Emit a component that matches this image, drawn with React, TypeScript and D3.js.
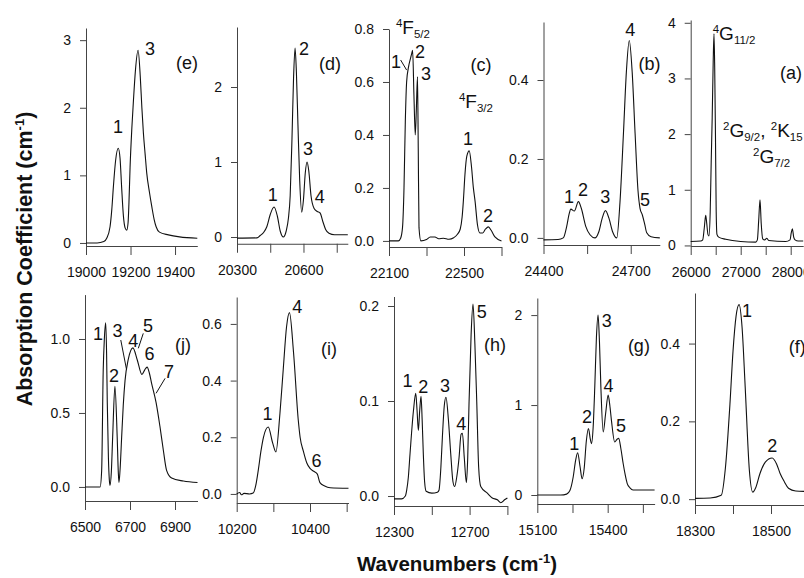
import React, { useEffect, useRef } from 'react';
import * as d3 from 'd3';

// absorption spectra, [wavenumber cm-1, absorption coefficient cm-1]
const specE = [[19000,0],[19050,0],[19080,0.02],[19093,0.07],[19108,0.24],[19116,0.5],[19123,0.83],[19133,1.22],[19145,1.40],[19153,1.25],[19160,0.83],[19168,0.4],[19176,0.22],[19183,0.19],[19189,0.3],[19193,0.6],[19198,1.12],[19206,1.7],[19213,2.1],[19222,2.55],[19234,2.85],[19244,2.45],[19251,2.0],[19258,1.62],[19266,1.3],[19273,1.03],[19285,0.75],[19296,0.53],[19306,0.35],[19315,0.24],[19330,0.16],[19370,0.12],[19420,0.09],[19500,0.07]];
const specD = [[20300,-0.015],[20390,-0.012],[20405,0.02],[20420,0.06],[20435,0.14],[20450,0.3],[20467,0.4],[20482,0.28],[20495,0.08],[20509,0.0],[20522,0.08],[20532,0.25],[20540,0.55],[20548,1.3],[20555,2.1],[20562,2.52],[20568,2.2],[20575,1.5],[20583,0.75],[20592,0.33],[20600,0.5],[20608,0.85],[20616,1.0],[20624,0.88],[20634,0.55],[20648,0.38],[20662,0.34],[20675,0.32],[20688,0.2],[20700,0.1],[20715,0.05],[20740,0.03],[20800,0.03]];
const specC = [[22100,0.0],[22150,0.0],[22162,0.01],[22172,0.05],[22180,0.2],[22187,0.45],[22194,0.6],[22205,0.66],[22215,0.69],[22222,0.71],[22226,0.72],[22233,0.55],[22240,0.40],[22246,0.5],[22252,0.62],[22256,0.35],[22260,0.05],[22270,0.0],[22300,0.005],[22320,0.015],[22345,0.015],[22365,0.008],[22390,0.01],[22420,0.006],[22445,0.012],[22465,0.025],[22480,0.045],[22490,0.09],[22497,0.155],[22505,0.25],[22515,0.32],[22528,0.34],[22540,0.28],[22550,0.2],[22559,0.15],[22572,0.06],[22585,0.03],[22600,0.03],[22615,0.045],[22630,0.053],[22645,0.04],[22665,0.015],[22700,0.0]];
const specB = [[24400,-0.005],[24450,-0.004],[24468,0.0],[24480,0.03],[24488,0.06],[24494,0.073],[24506,0.068],[24520,0.092],[24530,0.075],[24545,0.03],[24560,0.008],[24577,0.0],[24590,0.015],[24602,0.05],[24613,0.069],[24625,0.05],[24638,0.015],[24652,0.0],[24663,0.09],[24675,0.265],[24685,0.42],[24695,0.5],[24705,0.42],[24715,0.265],[24725,0.12],[24732,0.075],[24740,0.058],[24748,0.035],[24755,0.013],[24770,0.003],[24800,0.0]];
const specA = [[26000,0.07],[26200,0.08],[26240,0.1],[26270,0.3],[26300,0.54],[26320,0.4],[26345,0.2],[26366,0.17],[26390,0.6],[26410,1.5],[26430,2.3],[26450,3.3],[26466,3.8],[26480,3.2],[26495,2.0],[26510,0.6],[26525,0.2],[26560,0.15],[26700,0.11],[27000,0.07],[27300,0.06],[27333,0.1],[27360,0.45],[27386,0.82],[27410,0.4],[27440,0.12],[27480,0.1],[27520,0.13],[27560,0.09],[27900,0.07],[27987,0.1],[28010,0.22],[28033,0.3],[28060,0.15],[28087,0.1],[28150,0.08],[28250,0.08]];
const specJ = [[6500,0],[6540,0],[6567,0.0],[6574,0.11],[6581,0.79],[6586,1.0],[6592,1.11],[6596,0.9],[6599,0.57],[6604,0.2],[6608,0.05],[6611,0.01],[6617,0.1],[6623,0.34],[6633,0.68],[6643,0.34],[6648,0.1],[6651,0.03],[6656,0.12],[6663,0.34],[6670,0.55],[6678,0.72],[6692,0.86],[6713,0.94],[6732,0.86],[6753,0.76],[6765,0.79],[6776,0.81],[6786,0.77],[6796,0.70],[6816,0.57],[6833,0.41],[6848,0.25],[6863,0.11],[6885,0.06],[6937,0.04],[7000,0.03]];
const specI = [[10200,0.0],[10208,0.005],[10213,-0.003],[10220,0.002],[10235,0.0],[10245,0.003],[10252,0.03],[10259,0.085],[10266,0.15],[10273,0.2],[10286,0.236],[10298,0.18],[10307,0.148],[10318,0.285],[10327,0.44],[10336,0.59],[10344,0.64],[10355,0.5],[10368,0.26],[10373,0.2],[10382,0.15],[10391,0.11],[10400,0.09],[10410,0.08],[10420,0.07],[10427,0.04],[10440,0.028],[10455,0.022],[10505,0.02]];
const specH = [[12300,-0.003],[12340,-0.003],[12360,0.0],[12367,0.006],[12376,0.02],[12385,0.045],[12403,0.09],[12415,0.108],[12422,0.09],[12429,0.069],[12436,0.09],[12443,0.105],[12449,0.08],[12455,0.045],[12462,0.015],[12470,0.005],[12500,0.003],[12530,0.004],[12538,0.006],[12548,0.03],[12556,0.062],[12566,0.095],[12575,0.104],[12588,0.08],[12600,0.045],[12612,0.015],[12621,0.01],[12632,0.02],[12644,0.04],[12655,0.065],[12662,0.066],[12672,0.04],[12683,0.014],[12690,0.04],[12697,0.098],[12708,0.17],[12718,0.202],[12728,0.16],[12738,0.098],[12748,0.03],[12759,0.01],[12794,0.003],[12820,-0.002],[12847,-0.004],[12865,-0.007],[12885,-0.004],[12900,-0.002]];
const specG = [[15100,0],[15200,0],[15225,0.01],[15239,0.05],[15253,0.2],[15263,0.38],[15272,0.47],[15282,0.32],[15291,0.18],[15300,0.3],[15309,0.6],[15318,0.74],[15326,0.62],[15331,0.57],[15338,0.75],[15345,1.2],[15352,1.75],[15359,2.0],[15365,1.7],[15371,1.2],[15381,0.70],[15391,0.9],[15402,1.11],[15409,1.0],[15416,0.83],[15430,0.59],[15440,0.62],[15447,0.63],[15456,0.52],[15466,0.35],[15475,0.22],[15483,0.13],[15495,0.08],[15508,0.055],[15600,0.055]];
const specF = [[18300,0.002],[18340,0.003],[18369,0.01],[18380,0.08],[18392,0.245],[18400,0.38],[18408,0.47],[18416,0.50],[18424,0.44],[18432,0.29],[18443,0.075],[18452,0.018],[18460,0.03],[18471,0.066],[18485,0.095],[18503,0.106],[18515,0.09],[18524,0.066],[18535,0.045],[18546,0.028],[18565,0.021],[18590,0.02]];

// x ticks and the ones that carry a label
const xTicksE = [19000, 19200, 19400], xLabelsE = [19000, 19200, 19400];
const xTicksD = [20300, 20450, 20600, 20750], xLabelsD = [20300, 20600];
const xTicksC = [22100, 22300, 22500, 22700], xLabelsC = [22100, 22500];
const xTicksB = [24400, 24550, 24700], xLabelsB = [24400, 24700];
const xTicksA = [26000, 26500, 27000, 27500, 28000], xLabelsA = [26000, 27000, 28000];
const xTicksJ = [6500, 6700, 6900], xLabelsJ = [6500, 6700, 6900];
const xTicksI = [10200, 10300, 10400, 10500], xLabelsI = [10200, 10400];
const xTicksH = [12300, 12500, 12700, 12900], xLabelsH = [12300, 12700];
const xTicksG = [15100, 15250, 15400, 15550], xLabelsG = [15100, 15400];
const xTicksF = [18300, 18400, 18500], xLabelsF = [18300, 18500];

const yTicksE = [0, 1, 2, 3];
const yTicksD = [0, 1, 2];
const yTicksC = [0, 0.2, 0.4, 0.6, 0.8];
const yTicksB = [0, 0.2, 0.4];
const yTicksA = [0, 1, 2, 3, 4];
const yTicksJ = [0, 0.5, 1.0];
const yTicksI = [0, 0.2, 0.4, 0.6];
const yTicksH = [0, 0.1, 0.2];
const yTicksG = [0, 1, 2];
const yTicksF = [0, 0.2, 0.4];

// peak numbers / term labels, [wavenumber, value, text, anchor]
const notesE = [[19144, 1.62, '1'], [19288, 2.78, '3'], [19454, 2.58, '(e)']];
const notesD = [[20461, 0.48, '1'], [20602, 2.43, '2'], [20620, 1.09, '3'], [20674, 0.45, '4'], [20720, 2.23, '(d)']];
const notesC = [[22137, 0.78, '^{4}F_{5/2}', 'start'], [22137, 0.653, '1'], [22265, 0.69, '2'], [22297, 0.608, '3'], [22591, 0.642, '(c)'], [22473, 0.502, '^{4}F_{3/2}', 'start'], [22521, 0.362, '1'], [22628, 0.072, '2']];
const notesB = [[24488, 0.0886, '1'], [24536, 0.106, '2'], [24612, 0.0886, '3'], [24698, 0.512, '4'], [24749, 0.081, '5'], [24765, 0.425, '(b)']];
const notesA = [[26440, 3.69, '^{4}G_{11/2}', 'start'], [28006, 2.99, '(a)'], [26646, 1.95, '^{2}G_{9/2}, ^{2}K_{15}', 'start'], [27246, 1.48, '^{2}G_{7/2}', 'start']];
const notesJ = [[6558, 0.993, '1'], [6629, 0.711, '2'], [6645, 1.015, '3'], [6715, 0.948, '4'], [6780, 1.049, '5'], [6787, 0.858, '6'], [6873, 0.734, '7'], [6936, 0.919, '(j)']];
const notesI = [[10284, 0.261, '1'], [10365, 0.639, '4'], [10418, 0.096, '6'], [10452, 0.49, '(i)']];
const notesH = [[12371, 0.115, '1'], [12455, 0.108, '2'], [12570, 0.11, '3'], [12656, 0.069, '4'], [12764, 0.187, '5'], [12834, 0.153, '(h)']];
const notesG = [[15258, 0.5, '1'], [15312, 0.797, '2'], [15396, 1.87, '3'], [15404, 1.148, '4'], [15457, 0.703, '5'], [15533, 1.59, '(g)']];
const notesF = [[18437, 0.469, '1'], [18503, 0.122, '2'], [18547, 0.377, '(f)', 'start']];

// little pointer lines from a label to its peak
const leadersC = [[22162, 0.683, 22194, 0.645]];
const leadersJ = [[6659, 0.993, 6685, 0.79], [6759, 1.038, 6737, 0.937], [6856, 0.734, 6816, 0.633]];

const panels = [
  { id: 'e', spec: specE, xDom: [19000, 19500], yDom: [-0.045, 3.18], xTicks: xTicksE, xLabels: xLabelsE, yTicks: yTicksE, fmt: 'd', notes: notesE, leaders: [] },
  { id: 'd', spec: specD, xDom: [20300, 20800], yDom: [-0.09, 2.8], xTicks: xTicksD, xLabels: xLabelsD, yTicks: yTicksD, fmt: 'd', notes: notesD, leaders: [] },
  { id: 'c', spec: specC, xDom: [22100, 22700], yDom: [-0.023, 0.8], xTicks: xTicksC, xLabels: xLabelsC, yTicks: yTicksC, fmt: '.1f', notes: notesC, leaders: leadersC },
  { id: 'b', spec: specB, xDom: [24400, 24800], yDom: [-0.018, 0.547], xTicks: xTicksB, xLabels: xLabelsB, yTicks: yTicksB, fmt: '.1f', notes: notesB, leaders: [] },
  { id: 'a', spec: specA, xDom: [26000, 28250], yDom: [-0.01, 4.05], xTicks: xTicksA, xLabels: xLabelsA, yTicks: yTicksA, fmt: 'd', notes: notesA, leaders: [] },
  { id: 'j', spec: specJ, xDom: [6500, 7000], yDom: [-0.095, 1.3], xTicks: xTicksJ, xLabels: xLabelsJ, yTicks: yTicksJ, fmt: '.1f', notes: notesJ, leaders: leadersJ },
  { id: 'i', spec: specI, xDom: [10200, 10505], yDom: [-0.032, 0.695], xTicks: xTicksI, xLabels: xLabelsI, yTicks: yTicksI, fmt: '.1f', notes: notesI, leaders: [] },
  { id: 'h', spec: specH, xDom: [12300, 12900], yDom: [-0.0105, 0.21], xTicks: xTicksH, xLabels: xLabelsH, yTicks: yTicksH, fmt: '.1f', notes: notesH, leaders: [] },
  { id: 'g', spec: specG, xDom: [15100, 15600], yDom: [-0.1, 2.19], xTicks: xTicksG, xLabels: xLabelsG, yTicks: yTicksG, fmt: 'd', notes: notesG, leaders: [] },
  { id: 'f', spec: specF, xDom: [18300, 18590], yDom: [-0.015, 0.53], xTicks: xTicksF, xLabels: xLabelsF, yTicks: yTicksF, fmt: '.1f', notes: notesF, leaders: [] },
];

// where each little plot sits on the page (px)
const frames = {
  e: { x: [86, 197.3], y: [246, 28] },
  d: { x: [237, 347.8], y: [243.75, 27] },
  c: { x: [389, 501.5], y: [247, 29] },
  b: { x: [543.5, 659.8], y: [245, 22] },
  a: { x: [690.7, 803.2], y: [246, 20] },
  j: { x: [85, 197.5], y: [501, 294.6] },
  i: { x: [236.7, 348.5], y: [503, 297] },
  h: { x: [394, 507.4], y: [506, 296.5] },
  g: { x: [537.3, 654.6], y: [504, 298] },
  f: { x: [695, 805.2], y: [505, 293] },
};

const W = 804, H = 578;
const FONT = '"Liberation Sans", Arial, Helvetica, sans-serif';

// writes '^{4}F_{5/2}' style strings as tspans
const richText = (sel, str, small) => {
  const parts = str.match(/(\^\{[^}]*\}|_\{[^}]*\}|[^^_]+)/g) || [];
  let shift = 0;
  parts.forEach(p => {
    let target = 0, txt = p, sz = null;
    if (p.startsWith('^{')) { target = -small * 0.62; txt = p.slice(2, -1); sz = small; }
    else if (p.startsWith('_{')) { target = small * 0.36; txt = p.slice(2, -1); sz = small; }
    const ts = sel.append('tspan').attr('dy', target - shift).text(txt);
    if (sz) ts.attr('font-size', sz);
    shift = target;
  });
};

const App = () => {
  const svgRef = useRef(null);

  useEffect(() => {
    const svg = d3.select(svgRef.current);
    svg.selectAll('*').remove();

    const line = d3.line().curve(d3.curveMonotoneX);

    panels.forEach(p => {
      const fr = frames[p.id];
      const x = d3.scaleLinear().domain(p.xDom).range(fr.x);
      const y = d3.scaleLinear().domain(p.yDom).range(fr.y);
      const g = svg.append('g');

      const xAxis = d3.axisBottom(x)
        .tickValues(p.xTicks)
        .tickSize(9)
        .tickSizeOuter(0)
        .tickPadding(12)
        .tickFormat(d => (p.xLabels.includes(d) ? String(d) : ''));
      g.append('g')
        .attr('transform', `translate(0,${fr.y[0]})`)
        .call(xAxis);

      const yAxis = d3.axisLeft(y)
        .tickValues(p.yTicks)
        .tickSize(6)
        .tickSizeOuter(0)
        .tickPadding(9)
        .tickFormat(d3.format(p.fmt));
      g.append('g')
        .attr('transform', `translate(${fr.x[0]},0)`)
        .call(yAxis);

      g.selectAll('.domain, .tick line').attr('stroke', '#444').attr('stroke-width', 1);
      g.selectAll('.tick text')
        .attr('fill', '#111')
        .attr('font-family', FONT)
        .attr('font-size', 14);

      g.append('path')
        .datum(p.spec.map(([wn, v]) => [x(wn), y(v)]))
        .attr('d', line)
        .attr('fill', 'none')
        .attr('stroke', '#111')
        .attr('stroke-width', 1.1);

      p.leaders.forEach(([a1, b1, a2, b2]) => {
        g.append('line')
          .attr('x1', x(a1)).attr('y1', y(b1))
          .attr('x2', x(a2)).attr('y2', y(b2))
          .attr('stroke', '#111')
          .attr('stroke-width', 1);
      });

      p.notes.forEach(([wn, v, txt, anchor]) => {
        const big = txt.includes('^');
        const t = g.append('text')
          .attr('x', x(wn))
          .attr('y', y(v))
          .attr('text-anchor', anchor || 'middle')
          .attr('font-family', FONT)
          .attr('font-size', big ? 19 : 18)
          .attr('fill', '#111');
        richText(t, txt, 11.5);
      });
    });

    // axis titles
    const yt = svg.append('text')
      .attr('transform', 'translate(32,259) rotate(-90)')
      .attr('text-anchor', 'middle')
      .attr('font-family', FONT)
      .attr('font-weight', 'bold')
      .attr('font-size', 21.5)
      .attr('fill', '#111');
    richText(yt, 'Absorption Coefficient (cm^{-1})', 13);

    const xt = svg.append('text')
      .attr('x', 457)
      .attr('y', 571)
      .attr('text-anchor', 'middle')
      .attr('font-family', FONT)
      .attr('font-weight', 'bold')
      .attr('font-size', 20.5)
      .attr('fill', '#111');
    richText(xt, 'Wavenumbers (cm^{-1})', 13);
  }, []);

  return (
    <svg
      ref={svgRef}
      width={W}
      height={H}
      style={{ position: 'absolute', left: 0, top: 0, background: '#fff' }}
    />
  );
};

export default App;
